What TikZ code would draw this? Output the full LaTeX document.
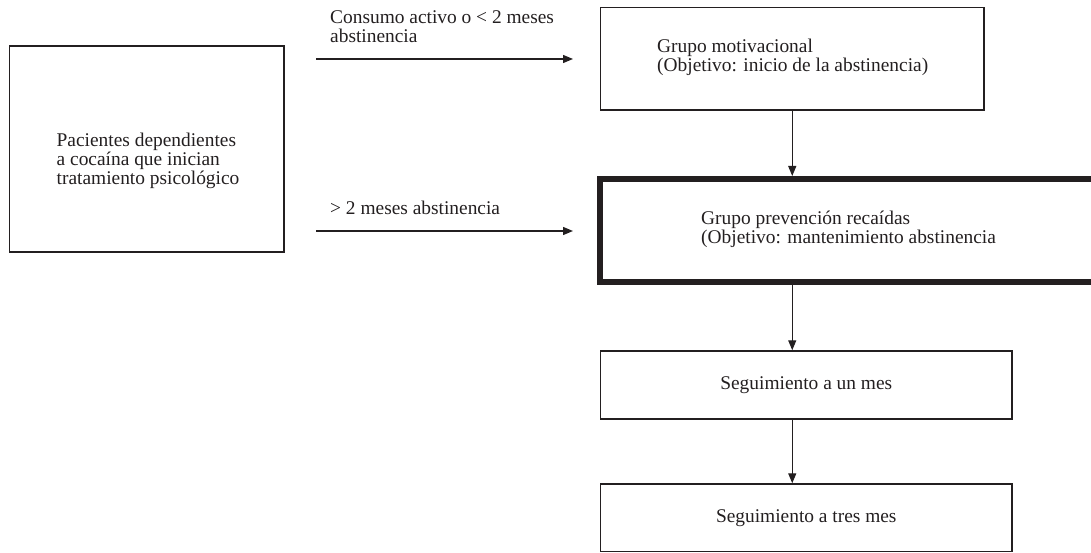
\documentclass[tikz,border=0pt]{standalone}
\usepackage{fontspec}
\setmainfont{Liberation Serif}
\usetikzlibrary{arrows.meta, positioning}
\definecolor{ink}{HTML}{231F20}
\def\boxline{1.5pt}

\begin{document}
\begin{tikzpicture}[x = 1pt, y = -1pt, font = \fontsize{19.4}{19}\selectfont, text = ink,
	box/.style = {draw = ink, line width = \boxline, rectangle, inner sep = 0pt},
	thickbox/.style = {box, line width = 6pt},
	txt/.style = {inner sep = 0pt, align = left},
	arr/.style = {-{Triangle[length = 10pt, width = 8pt]}, draw = ink, line width = 1.3pt}]
	\useasboundingbox (0, 0) rectangle (1091, 553);
	\clip (0, 0) rectangle (1091, 553);
	% boxes
	\node[box, minimum width = 274.5, minimum height = 206] (pac) at (146.75, 149) {};
	\node[box, minimum width = 383.5, minimum height = 102.5] (mot) at (792.25, 58.75) {};
	\node[thickbox, minimum width = 550, minimum height = 103] (prev) at (875, 230.5) {};
	\node[box, minimum width = 411.5, minimum height = 68] (seg1) at (806.25, 385) {Seguimiento a un mes};
	\node[box, minimum width = 411.5, minimum height = 67.5] (seg2) at (806.25, 517.75) {Seguimiento a tres mes};
	% texts
	\node[txt, anchor = west] (pactxt) at (56.5, 161) {Pacientes dependientes\\a cocaína que inician\\tratamiento psicológico};
	\node[txt, anchor = west] (mottxt) at (657, 57.5) {Grupo motivacional\\(Objetivo: inicio de la abstinencia)};
	\node[txt, anchor = west] (prevtxt) at (701, 229) {Grupo prevención recaídas\\(Objetivo: mantenimiento abstinencia};
	% arrows
	\coordinate (r1) at (0, 59);
	\coordinate (r2) at (0, 231);
	\draw[arr, shorten <= 31.25pt, shorten >= 26.75pt] (pac.east |- r1) -- (mot.west |- r1);
	\draw[arr, shorten <= 31.25pt, shorten >= 24pt] (pac.east |- r2) -- (prev.west |- r2);
	\node[txt, anchor = west] (lab1) at (330, 26.5) {Consumo activo o < 2 meses\\abstinencia};
	\node[txt, anchor = west] (lab2) at (330, 208) {> 2 meses abstinencia};
	\draw[arr] (mot.south) -- (prev.north -| mot.south);
	\draw[arr] (prev.south -| mot.south) -- (seg1.north -| mot.south);
	\draw[arr] (seg1.south -| mot.south) -- (seg2.north -| mot.south);
\end{tikzpicture}
\end{document}
